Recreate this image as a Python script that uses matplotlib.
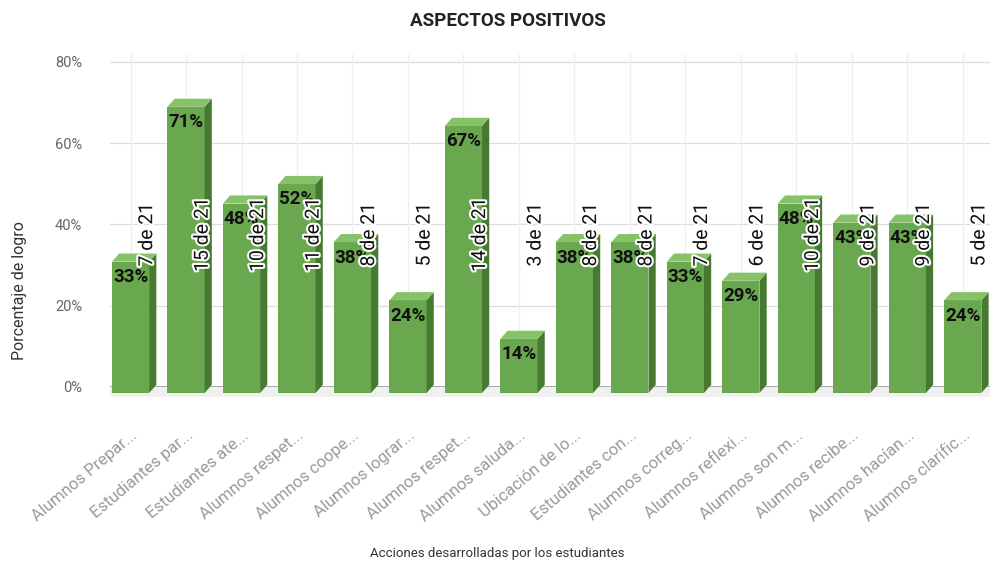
import matplotlib
matplotlib.use("Agg")
import matplotlib.pyplot as plt
from matplotlib.patches import Polygon, Rectangle
import matplotlib.patheffects as pe

plt.rcParams['font.family'] = ['Roboto', 'DejaVu Sans']

categories = ["Alumnos Prepar...", "Estudiantes par...", "Estudiantes ate...", "Alumnos respet...",
              "Alumnos coope...", "Alumnos lograr...", "Alumnos respet...", "Alumnos saluda...",
              "Ubicación de lo...", "Estudiantes con...", "Alumnos correg...", "Alumnos reflexi...",
              "Alumnos son m...", "Alumnos recibe...", "Alumnos hacían...", "Alumnos clarific..."]
counts = [7, 15, 10, 11, 8, 5, 14, 3, 8, 8, 7, 6, 10, 9, 9, 5]
total = 21
percent = [round(c / total * 100, 1) for c in counts]
pct_labels = ["33%", "71%", "48%", "52%", "38%", "24%", "67%", "14%",
              "38%", "38%", "33%", "29%", "48%", "43%", "43%", "24%"]
yticks = [0, 20, 40, 60, 80]
ytick_labels = ["0%", "20%", "40%", "60%", "80%"]

front = "#6aa84f"
side = "#457a30"
top = "#86c267"

fig = plt.figure(figsize=(9.95, 5.66), dpi=100)
ax = fig.add_axes([110/995, 1 - 397/566, 880/995, (397 - 53.6)/566])
ax.set_xlim(-0.37, 15.49)
ax.set_ylim(-2.5, 82)

# grid
for y in yticks:
    ax.axhline(y, color="#999999" if y == 0 else "#dcdcdc", lw=1.2 if y == 0 else 0.9, zorder=0)
for i in range(len(categories)):
    ax.axvline(i, ymin=(0 + 2.5) / 84.5, ymax=1, color="#eeeeee", lw=0.9, zorder=0)
ax.add_patch(Rectangle((-0.37, -2.5), 15.86, 2.5, color="#f0f0f0", zorder=0.5, lw=0))

w = 0.67
dx = 0.13
dy = 2.0
down = 1.5
for i, v in enumerate(percent):
    x0 = i - w / 2
    x1 = i + w / 2
    ftop = v - down - 1.0
    ax.bar(i, ftop + down, bottom=-down, width=w, color=front, zorder=2, lw=0)
    ax.add_patch(Polygon([(x1, -down), (x1 + dx, -down + dy), (x1 + dx, ftop + dy), (x1, ftop)],
                         closed=True, color=side, zorder=2, lw=0))
    ax.add_patch(Polygon([(x0, ftop), (x1, ftop), (x1 + dx, ftop + dy), (x0 + dx, ftop + dy)],
                         closed=True, color=top, zorder=2, lw=0))
    ax.text(i, v - 6.3, pct_labels[i], ha="center", va="center", fontsize=13.5,
            fontweight="bold", color="#111111", zorder=3)
    ax.text(i + 0.3, 37.5, f"{counts[i]} de {total}", rotation=90, ha="center", va="center",
            fontsize=14, color="#111111", zorder=4,
            path_effects=[pe.withStroke(linewidth=3, foreground="white")])

for s in ax.spines.values():
    s.set_visible(False)
ax.set_yticks(yticks)
ax.set_yticklabels(ytick_labels, fontsize=10.5, color="#666666")
ax.tick_params(axis="y", length=0, pad=20)
ax.set_xticks(range(len(categories)))
ax.set_xticklabels(categories, rotation=40, ha="right", rotation_mode="anchor",
                   fontsize=12, color="#9a9a9a")
ax.tick_params(axis="x", length=0, pad=22)

fig.text(0.51, 1 - 21/566, "ASPECTOS POSITIVOS", ha="center", va="center",
         fontsize=13.5, fontweight="bold", color="#222222")
fig.text(20/995, 1 - 291/566, "Porcentaje de logro", rotation=90, ha="center", va="center",
         fontsize=11.5, color="#333333")
fig.text(497/995, 1 - 553/566, "Acciones desarrolladas por los estudiantes", ha="center",
         va="center", fontsize=9.5, color="#333333")

fig.savefig("out.png", dpi=100)
